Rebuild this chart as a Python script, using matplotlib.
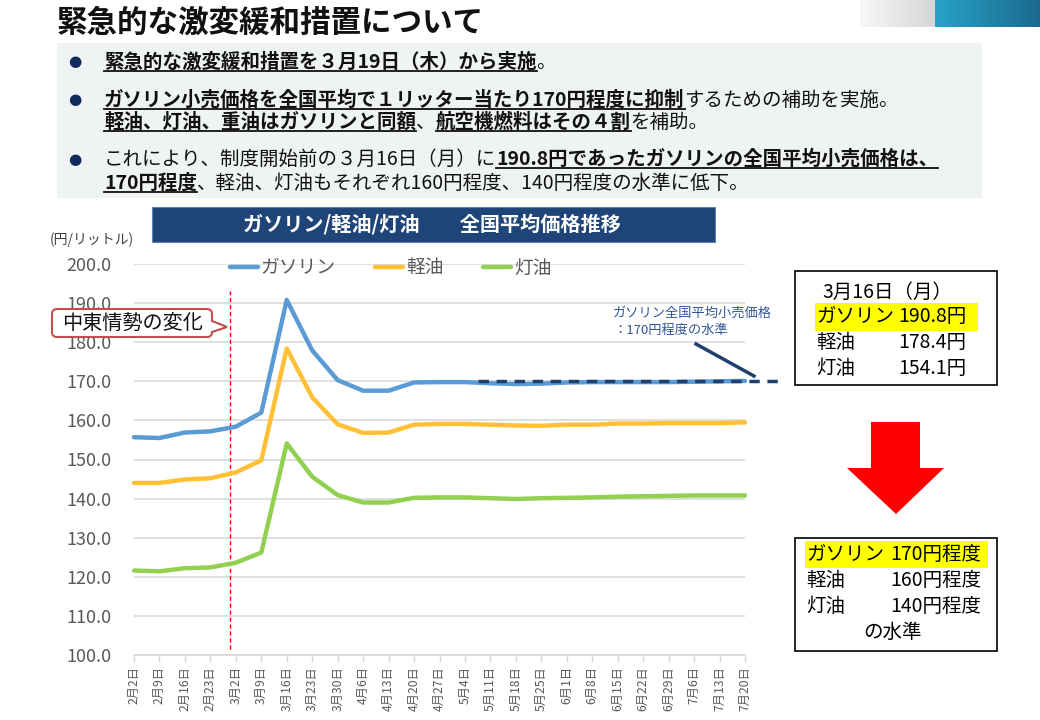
import matplotlib
matplotlib.use("Agg")
import matplotlib.pyplot as plt
import numpy as np
from matplotlib.patches import Rectangle, Polygon, PathPatch
from matplotlib.path import Path
from matplotlib.lines import Line2D

plt.rcParams['font.family'] = ['Noto Sans CJK JP', 'DejaVu Sans']

# data (円/リットル)
dates = ['2月2日', '2月9日', '2月16日', '2月23日', '3月2日', '3月9日', '3月16日', '3月23日',
         '3月30日', '4月6日', '4月13日', '4月20日', '4月27日', '5月4日', '5月11日', '5月18日',
         '5月25日', '6月1日', '6月8日', '6月15日', '6月22日', '6月29日', '7月6日', '7月13日',
         '7月20日']
gasoline = [155.7, 155.5, 156.9, 157.2, 158.4, 162.0, 190.8, 177.9, 170.3, 167.6, 167.6, 169.7,
            169.8, 169.8, 169.5, 169.3, 169.4, 169.7, 169.8, 169.8, 169.8, 169.8, 169.9, 170.0, 170.1]
diesel = [144.0, 144.0, 144.9, 145.2, 146.7, 149.8, 178.4, 165.9, 159.0, 156.8, 156.9, 158.9,
          159.1, 159.1, 158.9, 158.7, 158.6, 158.9, 158.9, 159.2, 159.2, 159.3, 159.3, 159.3, 159.5]
kerosene = [121.6, 121.4, 122.2, 122.4, 123.6, 126.2, 154.1, 145.6, 140.9, 139.0, 139.0, 140.2,
            140.3, 140.3, 140.1, 139.9, 140.1, 140.2, 140.3, 140.5, 140.6, 140.7, 140.8, 140.8, 140.8]
series_names = ['ガソリン', '軽油', '灯油']
series_colors = ['#5B9BD5', '#FFC035', '#92D050']
target_level = 170.0
event_pos = 3.78  # 中東情勢の変化 (between 2/23 and 3/2)

W, H = 1040, 720
fig = plt.figure(figsize=(W / 100, H / 100), dpi=100)
renderer = fig.canvas.get_renderer()


def px(x):
    return x / W


def py(y):
    return 1 - y / H


def rect(x0, y0, x1, y1, **kw):
    fig.patches.append(Rectangle((px(x0), py(y1)), px(x1 - x0), (y1 - y0) / H,
                                 transform=fig.transFigure, **kw))


def rich_line(x, y, parts, size=14):
    # parts: list of (text, bold_underline)
    for s, strong in parts:
        t = fig.text(px(x), py(y), s, fontsize=size, va='baseline', ha='left',
                     fontweight='bold' if strong else 'normal', color='#111111')
        w = t.get_window_extent(renderer).width
        if strong:
            fig.add_artist(Line2D([px(x), px(x + w)], [py(y + 3), py(y + 3)],
                                  transform=fig.transFigure, color='#111111', lw=1.3))
        x += w
    return x


# header
fig.text(px(57), py(23), '緊急的な激変緩和措置について', fontsize=22, fontweight='bold',
         va='center', ha='left', color='#111111')
grad = np.linspace(0, 1, 100).reshape(1, -1)
gax = fig.add_axes([px(860), py(27), px(75), 27 / H])
gax.imshow(grad, aspect='auto', cmap=matplotlib.colors.LinearSegmentedColormap.from_list(
    'g', ['#F7F7F7', '#D6D6D6']))
gax.axis('off')
bax = fig.add_axes([px(935), py(27), px(105), 27 / H])
bax.imshow(grad, aspect='auto', cmap=matplotlib.colors.LinearSegmentedColormap.from_list(
    'b', ['#27A3C8', '#1B6A8E']))
bax.axis('off')

# bullet box
rect(57, 43, 982, 198, facecolor='#EFF3F3', edgecolor='none')
for yb in [62, 100, 159]:
    fig.text(px(75), py(yb), '●', fontsize=11, color='#0F2A5C', ha='center', va='center',
             family=['DejaVu Sans'])
rich_line(104, 68, [('緊急的な激変緩和措置を３月19日（木）から実施', True), ('。', False)])
rich_line(104, 106, [('ガソリン小売価格を全国平均で１リッター当たり170円程度に抑制', True),
                     ('するための補助を実施。', False)])
rich_line(104, 128, [('軽油、灯油、重油はガソリンと同額', True), ('、', False),
                     ('航空機燃料はその４割', True), ('を補助。', False)])
rich_line(104, 165, [('これにより、制度開始前の３月16日（月）に', False),
                     ('190.8円であったガソリンの全国平均小売価格は、', True)])
rich_line(104, 189, [('170円程度', True),
                     ('、軽油、灯油もそれぞれ160円程度、140円程度の水準に低下。', False)])

# chart banner
rect(152, 207, 715, 242, facecolor='#1F4478', edgecolor='#5F7FAF', lw=0.8)
fig.text(px(432), py(224), 'ガソリン/軽油/灯油　　全国平均価格推移', fontsize=14.5,
         fontweight='bold', color='white', ha='center', va='center')
fig.text(px(50), py(240), '(円/リットル)', fontsize=10, color='#404040', ha='left', va='center')

# line chart
ax = fig.add_axes([px(134), py(655), px(745 - 134), (655 - 264) / H])
x = np.arange(len(dates))
for vals, name, col in zip([gasoline, diesel, kerosene], series_names, series_colors):
    ax.plot(x, vals, color=col, lw=3.2, label=name, solid_capstyle='round',
            solid_joinstyle='round', clip_on=False, zorder=3)
ax.set_xlim(0, len(dates) - 1)
ax.set_ylim(100, 200)
ax.set_yticks(np.arange(100, 201, 10))
ax.set_yticklabels([f'{v:.1f}' for v in np.arange(100, 201, 10)], fontsize=13, color='#595959')
ax.set_xticks(x)
ax.set_xticklabels(dates, rotation=90, fontsize=8.8, color='#595959')
ax.grid(axis='y', color='#D9D9D9', lw=1.2)
ax.set_axisbelow(True)
for s in ['top', 'right', 'left']:
    ax.spines[s].set_visible(False)
ax.spines['bottom'].set_color('#D9D9D9')
ax.spines['bottom'].set_linewidth(1.2)
ax.tick_params(axis='y', length=0, pad=16)
ax.tick_params(axis='x', length=5, color='#D9D9D9', width=1, pad=3)
ax.legend(loc='center', bbox_to_anchor=(0.42, 0.99), ncol=3, frameon=False, fontsize=13.5,
          handlelength=1.5, handletextpad=0.15, columnspacing=2.1, labelcolor='#595959')

# event marker
ax.plot([event_pos, event_pos], [101.5, 193], color='#FF0000', lw=1, ls=(0, (3, 2)), zorder=2)
cx0, cx1, cy0, cy1, r = 52, 212, 309, 337, 5
verts = [(cx0 + r, cy0), (cx1 - r, cy0), (cx1, cy0), (cx1, cy0 + r), (cx1, 321), (227, 327),
         (cx1, 332), (cx1, cy1 - r), (cx1, cy1), (cx1 - r, cy1), (cx0 + r, cy1), (cx0, cy1),
         (cx0, cy1 - r), (cx0, cy0 + r), (cx0, cy0), (cx0 + r, cy0)]
codes = [Path.MOVETO, Path.LINETO, Path.CURVE3, Path.CURVE3, Path.LINETO, Path.LINETO,
         Path.LINETO, Path.LINETO, Path.CURVE3, Path.CURVE3, Path.LINETO, Path.CURVE3,
         Path.CURVE3, Path.LINETO, Path.CURVE3, Path.CURVE3]
fig.patches.append(PathPatch(Path([(px(a), py(b)) for a, b in verts], codes),
                             transform=fig.transFigure, facecolor='white', edgecolor='#C0504D',
                             lw=1.5))
fig.text(px(132), py(323), '中東情勢の変化', fontsize=14.5, color='#111111', ha='center',
         va='center')

# 170 yen target line
ax.plot([13.5, 24 + (779 - 745) / 25.46], [target_level, target_level], color='#1F3F6F',
        lw=2.5, ls=(0, (3, 2.2)), clip_on=False, zorder=4)
fig.add_artist(Line2D([px(696), px(754)], [py(344), py(376)], transform=fig.transFigure,
                      color='#1F3F6F', lw=2.5))
fig.text(px(613), py(313), 'ガソリン全国平均小売価格', fontsize=9.5, color='#2F5597',
         ha='left', va='center')
fig.text(px(613), py(331), '：170円程度の水準', fontsize=9.5, color='#2F5597', ha='left',
         va='center')

# before box
bs = 14
rect(795, 271, 997, 385, facecolor='white', edgecolor='black', lw=1.2)
fig.text(px(822), py(292), '3月16日（月）', fontsize=bs, ha='left', va='center')
rect(815, 303, 978, 331, facecolor='#FFFF00', edgecolor='none')
fig.text(px(816), py(317), 'ガソリン', fontsize=bs, ha='left', va='center')
fig.text(px(898), py(317), f'{gasoline[6]:.1f}円', fontsize=bs, ha='left', va='center')
fig.text(px(816), py(343), '軽油', fontsize=bs, ha='left', va='center')
fig.text(px(898), py(343), f'{diesel[6]:.1f}円', fontsize=bs, ha='left', va='center')
fig.text(px(816), py(368), '灯油', fontsize=bs, ha='left', va='center')
fig.text(px(898), py(368), f'{kerosene[6]:.1f}円', fontsize=bs, ha='left', va='center')

# red arrow
fig.patches.append(Polygon([(px(a), py(b)) for a, b in
                            [(871, 422), (920, 422), (920, 468), (944, 468), (896, 514),
                             (847, 468), (871, 468)]],
                           closed=True, transform=fig.transFigure, facecolor='#FF0000',
                           edgecolor='none'))

# after box
rect(795, 538, 997, 651, facecolor='white', edgecolor='black', lw=1.2)
rect(805, 541, 988, 568, facecolor='#FFFF00', edgecolor='none')
for yy, lab, val in [(555, 'ガソリン', '170円程度'), (581, '軽油', '160円程度'),
                     (607, '灯油', '140円程度')]:
    fig.text(px(806), py(yy), lab, fontsize=bs, ha='left', va='center')
    fig.text(px(890), py(yy), val, fontsize=bs, ha='left', va='center')
fig.text(px(893), py(632), 'の水準', fontsize=bs, ha='center', va='center')

fig.savefig('out.png', dpi=100)
